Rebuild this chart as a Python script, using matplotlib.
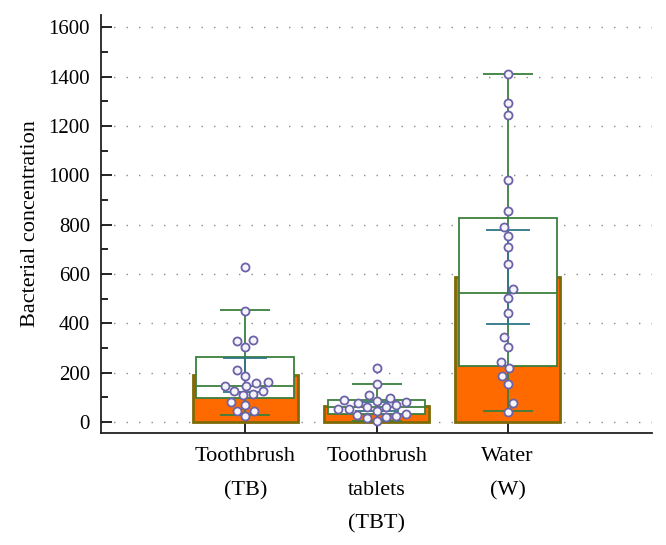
import matplotlib
matplotlib.use('Agg')
import matplotlib.pyplot as plt
import seaborn as sns
import pandas as pd
from matplotlib.ticker import MultipleLocator

groups = ['Toothbrush\n(TB)', 'Toothbrush\ntablets\n(TBT)', 'Water\n(W)']

tb_values = [627, 451, 305, 328, 332, 211, 188, 146, 147, 159,
             163, 108, 113, 127, 127, 69, 80, 46, 46, 24]
tbt_values = [218, 152, 110, 98, 83, 90, 81, 77, 61, 67,
              61, 54, 54, 43, 34, 30, 24, 16, 20, 3]
w_values = [1410, 1295, 1243, 979, 855, 791, 753, 708, 640, 537,
            503, 440, 343, 305, 242, 217, 188, 154, 76, 42]

# summary statistics
means = [190, 63, 589]
mean_low = [121, 45, 399]
mean_high = [261, 80, 779]
q1 = [97, 32, 228]
medians = [146, 60, 521]
q3 = [263, 90, 825]
whisk_low = [28, 3, 46]
whisk_high = [453, 152, 1410]

ORANGE = '#ff6a00'
OLIVE = '#7d6a08'
GREEN = '#3c7f3c'
TEAL = '#2f7686'
PURPLE = '#6b62a8'

plt.rcParams['font.family'] = ['Liberation Serif', 'DejaVu Serif']

fig = plt.figure(figsize=(6.66, 5.45), dpi=100)
ax = fig.add_axes([0.1517, 0.2055, 0.8273, 0.767])

pos = [0, 1, 2]

ax.bar(pos, means, width=0.8, color=ORANGE, edgecolor=OLIVE, linewidth=2, zorder=2)
ax.bar(pos, [h - l for h, l in zip(q3, q1)], bottom=q1, width=0.745,
       facecolor='white', edgecolor=GREEN, linewidth=1.3, zorder=3)
ax.hlines(medians, [p - 0.3725 for p in pos], [p + 0.3725 for p in pos],
          color=GREEN, linewidth=1.3, zorder=4)
ax.errorbar(pos, medians, yerr=[[m - l for m, l in zip(medians, whisk_low)],
                                [h - m for m, h in zip(medians, whisk_high)]],
            fmt='none', ecolor=GREEN, elinewidth=1.3, capsize=18, capthick=1.3, zorder=4)
ax.errorbar(pos, means, yerr=[[m - l for m, l in zip(means, mean_low)],
                              [h - m for m, h in zip(means, mean_high)]],
            fmt='none', ecolor=TEAL, elinewidth=1.3, capsize=15.5, capthick=1.3, zorder=5)

df = pd.DataFrame({
    'group': ['TB'] * len(tb_values) + ['TBT'] * len(tbt_values) + ['W'] * len(w_values),
    'value': tb_values + tbt_values + w_values,
})
sns.swarmplot(data=df, x='group', y='value', order=['TB', 'TBT', 'W'], ax=ax,
              size=5.8, color='#f6f4fb', edgecolor=PURPLE, linewidth=1.3, zorder=10)

ax.set_xlim(-1.1, 3.1)
ax.set_ylim(-45, 1650)
ax.set_xticks(pos)
ax.set_xticklabels(groups, fontsize=16, linespacing=2.05)
ax.set_xlabel('')
ax.set_ylabel('Bacterial concentration', fontsize=16, labelpad=6)
ax.yaxis.set_major_locator(MultipleLocator(200))
ax.yaxis.set_minor_locator(MultipleLocator(100))
ax.tick_params(axis='y', which='major', direction='in', length=8, width=1.2,
               labelsize=15, pad=8)
ax.tick_params(axis='y', which='minor', direction='in', length=5, width=1.2)
ax.tick_params(axis='x', which='major', direction='in', length=10, width=1.2, pad=10)
ax.grid(axis='y', which='major', color='#8a8a8a', linestyle=(0, (1, 8)), linewidth=1.0)
ax.set_axisbelow(True)
for side in ['top', 'right']:
    ax.spines[side].set_visible(False)
for side in ['left', 'bottom']:
    ax.spines[side].set_color('#222222')
    ax.spines[side].set_linewidth(1.3)

fig.savefig('out.png', dpi=100)
